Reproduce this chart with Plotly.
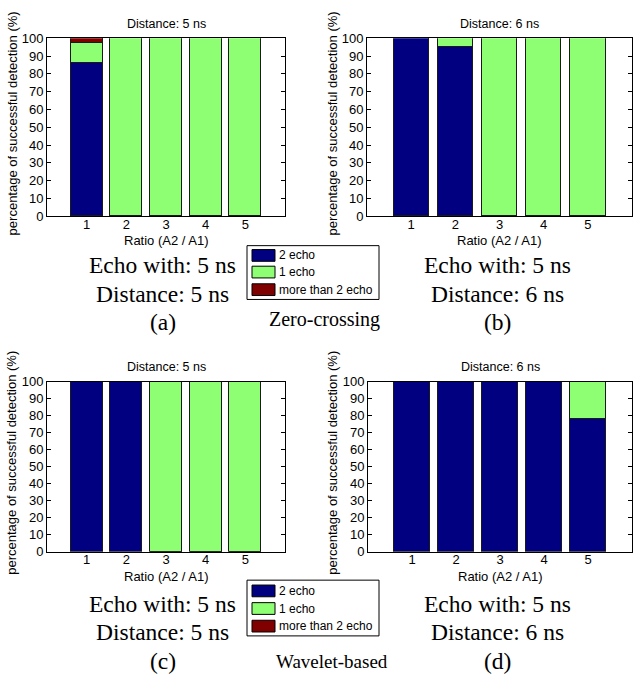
import plotly.graph_objects as go

# ---------------- data ----------------
ratios = [1, 2, 3, 4, 5]
series_names = ["2 echo", "1 echo", "more than 2 echo"]

# (a) Zero-crossing, distance 5 ns
a_two = [86, 0, 0, 0, 0]
a_one = [11, 100, 100, 100, 100]
a_more = [3, 0, 0, 0, 0]
# (b) Zero-crossing, distance 6 ns
b_two = [100, 95, 0, 0, 0]
b_one = [0, 5, 100, 100, 100]
b_more = [0, 0, 0, 0, 0]
# (c) Wavelet-based, distance 5 ns
c_two = [100, 100, 0, 0, 0]
c_one = [0, 0, 100, 100, 100]
c_more = [0, 0, 0, 0, 0]
# (d) Wavelet-based, distance 6 ns
d_two = [100, 100, 100, 100, 78]
d_one = [0, 0, 0, 0, 22]
d_more = [0, 0, 0, 0, 0]

panel_titles = ["Distance: 5 ns", "Distance: 6 ns", "Distance: 5 ns", "Distance: 6 ns"]
y_ticks = [0, 10, 20, 30, 40, 50, 60, 70, 80, 90, 100]

# ---------------- style ----------------
W, H = 633, 684
colors = ["#000080", "#8EFF72", "#800000"]
SANS = "Liberation Sans, Arial, sans-serif"
SERIF = "Liberation Serif, Times New Roman, serif"

def px(x):
    return x / W

def py(y):
    return 1 - y / H

panels = [
    dict(data=(a_two, a_one, a_more), x0=47, x1=285, y0=32, y1=214),
    dict(data=(b_two, b_one, b_more), x0=367, x1=632, y0=32, y1=214),
    dict(data=(c_two, c_one, c_more), x0=47, x1=285, y0=383, y1=557),
    dict(data=(d_two, d_one, d_more), x0=368, x1=632, y0=383, y1=557),
]

fig = go.Figure()
annotations = []
shapes = []
layout_axes = {}

for i, p in enumerate(panels):
    n = i + 1
    xa = "x" if n == 1 else f"x{n}"
    ya = "y" if n == 1 else f"y{n}"
    for s, (name, vals) in enumerate(zip(series_names, p["data"])):
        fig.add_trace(go.Bar(
            x=ratios, y=vals, name=name, xaxis=xa, yaxis=ya,
            marker=dict(color=colors[s], line=dict(color="#1a1a1a", width=1)),
            width=0.8, showlegend=False,
        ))
    layout_axes["xaxis" if n == 1 else f"xaxis{n}"] = dict(
        domain=[px(p["x0"]), px(p["x1"])], anchor=ya, range=[0, 6],
        tickvals=ratios, ticks="", showgrid=False, zeroline=False,
        showline=True, linecolor="black", linewidth=1, mirror=True,
        tickfont=dict(family=SANS, size=13, color="black"),
        ticklabelstandoff=-4,
    )
    layout_axes["yaxis" if n == 1 else f"yaxis{n}"] = dict(
        domain=[py(p["y1"]), py(p["y0"])], anchor=xa, range=[0, 100],
        tickvals=y_ticks, ticks="inside", ticklen=4, tickcolor="black",
        showgrid=False, zeroline=False, showline=True, linecolor="black",
        linewidth=1, mirror="ticks",
        tickfont=dict(family=SANS, size=13, color="black"),
    )
    cx = (p["x0"] + p["x1"]) / 2
    cy = (p["y0"] + p["y1"]) / 2
    annotations.append(dict(text=panel_titles[i], x=px(cx), y=py(p["y0"] - 15),
                            xref="paper", yref="paper", showarrow=False,
                            font=dict(family=SANS, size=12.5, color="black"),
                            xanchor="center", yanchor="middle"))
    annotations.append(dict(text="Ratio (A2 / A1)", x=px(cx), y=py(p["y1"] + 25),
                            xref="paper", yref="paper", showarrow=False,
                            font=dict(family=SANS, size=13, color="black"),
                            xanchor="center", yanchor="middle"))
    annotations.append(dict(text="percentage of successful detection (%)",
                            x=px(p["x0"] - 35), y=py(cy - 4), textangle=-90,
                            xref="paper", yref="paper", showarrow=False,
                            font=dict(family=SANS, size=13, color="black"),
                            xanchor="center", yanchor="middle"))

# captions under panels
captions = [
    ("Echo with: 5 ns", 163, 264, 23.5), ("Distance: 5 ns", 163, 293, 23.5), ("(a)", 163, 322, 23.5),
    ("Echo with: 5 ns", 497, 264, 23.5), ("Distance: 6 ns", 497, 293, 23.5), ("(b)", 497, 322, 23.5),
    ("Zero-crossing", 324, 320, 20),
    ("Echo with: 5 ns", 163, 610, 23.5), ("Distance: 5 ns", 163, 639, 23.5), ("(c)", 163, 669, 23.5),
    ("Echo with: 5 ns", 497, 610, 23.5), ("Distance: 6 ns", 497, 639, 23.5), ("(d)", 497, 669, 23.5),
    ("Wavelet-based", 332, 669, 19),
]
for t, x, y, size in captions:
    annotations.append(dict(text=t, x=px(x), y=py(y), xref="paper", yref="paper",
                            showarrow=False, xanchor="center", yanchor="middle",
                            font=dict(family=SERIF, size=size, color="black")))

# legend boxes (drawn as shapes + text)
for top, rows in ((244, (254, 271, 289)), (586, (597, 615, 633))):
    bottom = rows[-1] + 10
    shapes.append(dict(type="rect", xref="paper", yref="paper",
                       x0=px(247), x1=px(379), y0=py(bottom), y1=py(top),
                       line=dict(color="black", width=1), fillcolor="white", layer="above"))
    for s, (name, ry) in enumerate(zip(series_names, rows)):
        shapes.append(dict(type="rect", xref="paper", yref="paper",
                           x0=px(252), x1=px(275), y0=py(ry + 6), y1=py(ry - 6),
                           line=dict(color="black", width=1), fillcolor=colors[s], layer="above"))
        annotations.append(dict(text=name, x=px(277), y=py(ry), xref="paper", yref="paper",
                                showarrow=False, xanchor="left", yanchor="middle",
                                font=dict(family=SANS, size=12, color="black")))

fig.update_layout(
    width=W, height=H, margin=dict(l=0, r=0, t=0, b=0),
    paper_bgcolor="white", plot_bgcolor="white",
    barmode="stack", bargap=0, showlegend=False,
    annotations=annotations, shapes=shapes,
    **layout_axes,
)

fig.write_html("out.html")
